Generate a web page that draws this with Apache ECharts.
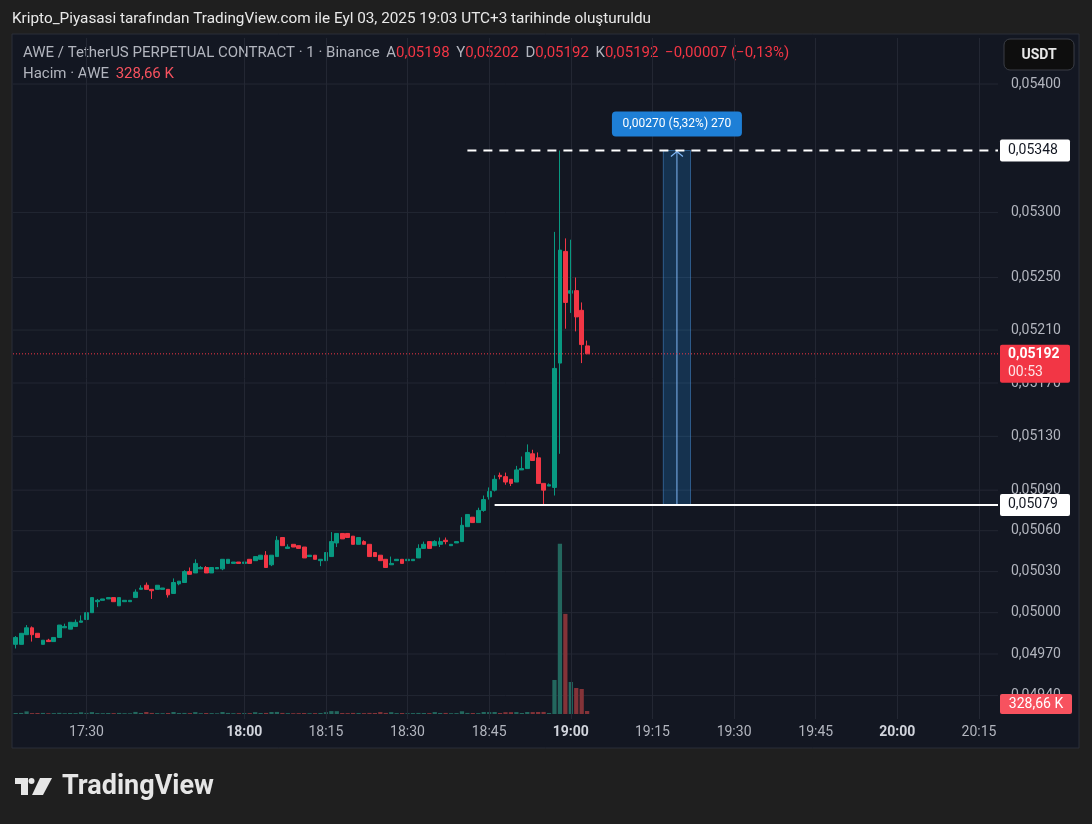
<!DOCTYPE html>
<html><head><meta charset="utf-8">
<script src="https://cdn.jsdelivr.net/npm/echarts@6/dist/echarts.min.js"></script>
<style>html,body{margin:0;padding:0;background:#1f1f1f;}#c{width:1092px;height:824px;}</style>
</head><body><div id="c"></div>
<script>
// ---------- DATA ----------
const firstMinute = '17:17';
const lastMinute = '20:18';
const skippedMinute = '17:45';
const categories = (function () {
  const out = [];
  const toMin = s => +s.slice(0, 2) * 60 + +s.slice(3);
  for (let t = toMin(firstMinute); t <= toMin(lastMinute); t++) {
    const s = String(Math.floor(t / 60)).padStart(2, '0') + ':' + String(t % 60).padStart(2, '0');
    if (s !== skippedMinute) out.push(s);
  }
  return out;
})();

// [open, close, low, high]
const ohlc = [
  [0.04977,0.04982,0.04974,0.04983],[0.04977,0.04985,0.04977,0.04985],[0.04984,0.04989,0.04984,0.04991],
  [0.04989,0.04984,0.04979,0.04990],[0.04985,0.04982,0.04982,0.04985],[0.04977,0.04980,0.04977,0.04980],
  [0.04980,0.04979,0.04979,0.04981],[0.04979,0.04982,0.04979,0.04982],[0.04982,0.04991,0.04982,0.04991],
  [0.04989,0.04990,0.04989,0.04992],[0.04988,0.04993,0.04988,0.04993],[0.04990,0.04993,0.04990,0.04995],
  [0.04993,0.04994,0.04993,0.04998],[0.04995,0.05000,0.04995,0.05003],[0.05000,0.05011,0.05000,0.05011],
  [0.05008,0.05009,0.05004,0.05010],[0.05009,0.05010,0.05009,0.05010],[0.05010,0.05011,0.05010,0.05011],
  [0.05011,0.05008,0.05008,0.05011],[0.05005,0.05011,0.05005,0.05011],[0.05008,0.05009,0.05008,0.05009],
  [0.05008,0.05009,0.05008,0.05009],[0.05011,0.05015,0.05011,0.05017],[0.05017,0.05018,0.05017,0.05020],
  [0.05020,0.05017,0.05017,0.05022],[0.05017,0.05016,0.05010,0.05017],[0.05017,0.05020,0.05017,0.05020],
  [0.05017,0.05018,0.05017,0.05018],[0.05017,0.05013,0.05011,0.05017],[0.05014,0.05022,0.05014,0.05025],
  [0.05021,0.05023,0.05020,0.05023],[0.05022,0.05030,0.05022,0.05031],[0.05030,0.05028,0.05028,0.05033],
  [0.05029,0.05036,0.05029,0.05039],[0.05032,0.05033,0.05032,0.05034],[0.05033,0.05029,0.05029,0.05034],
  [0.05029,0.05033,0.05029,0.05033],[0.05032,0.05033,0.05032,0.05033],[0.05032,0.05039,0.05031,0.05039],
  [0.05036,0.05039,0.05036,0.05039],[0.05036,0.05037,0.05036,0.05037],[0.05037,0.05036,0.05036,0.05037],
  [0.05036,0.05037,0.05036,0.05039],[0.05039,0.05036,0.05036,0.05039],[0.05038,0.05041,0.05038,0.05041],
  [0.05039,0.05042,0.05039,0.05042],[0.05042,0.05033,0.05033,0.05045],[0.05035,0.05042,0.05034,0.05042],
  [0.05041,0.05053,0.05041,0.05056],[0.05055,0.05049,0.05049,0.05055],[0.05047,0.05048,0.05047,0.05050],
  [0.05050,0.05048,0.05048,0.05050],[0.05049,0.05047,0.05047,0.05049],[0.05048,0.05040,0.05040,0.05048],
  [0.05041,0.05042,0.05041,0.05042],[0.05042,0.05039,0.05039,0.05042],[0.05038,0.05039,0.05034,0.05039],
  [0.05038,0.05044,0.05038,0.05044],[0.05041,0.05052,0.05041,0.05059],[0.05051,0.05058,0.05048,0.05058],
  [0.05058,0.05054,0.05054,0.05058],[0.05058,0.05055,0.05055,0.05058],[0.05056,0.05050,0.05050,0.05056],
  [0.05050,0.05055,0.05050,0.05055],[0.05052,0.05050,0.05050,0.05053],[0.05050,0.05041,0.05041,0.05050],
  [0.05044,0.05041,0.05041,0.05044],[0.05042,0.05038,0.05038,0.05042],[0.05039,0.05033,0.05033,0.05039],
  [0.05035,0.05036,0.05035,0.05041],[0.05038,0.05039,0.05038,0.05039],[0.05039,0.05036,0.05036,0.05039],
  [0.05038,0.05039,0.05038,0.05039],[0.05038,0.05039,0.05038,0.05039],[0.05040,0.05047,0.05040,0.05050],
  [0.05047,0.05050,0.05047,0.05052],[0.05052,0.05047,0.05047,0.05052],[0.05049,0.05052,0.05049,0.05053],
  [0.05050,0.05052,0.05048,0.05055],[0.05053,0.05052,0.05050,0.05055],[0.05049,0.05050,0.05049,0.05050],
  [0.05051,0.05052,0.05051,0.05052],[0.05052,0.05064,0.05052,0.05070],[0.05063,0.05072,0.05063,0.05072],
  [0.05070,0.05066,0.05066,0.05070],[0.05066,0.05075,0.05066,0.05077],[0.05075,0.05083,0.05074,0.05086],
  [0.05085,0.05089,0.05083,0.05092],[0.05090,0.05098,0.05089,0.05101],[0.05101,0.05100,0.05098,0.05103],
  [0.05100,0.05096,0.05094,0.05103],[0.05098,0.05095,0.05093,0.05098],[0.05096,0.05105,0.05096,0.05108],
  [0.05105,0.05106,0.05105,0.05115],[0.05106,0.05118,0.05106,0.05124],[0.05117,0.05112,0.05112,0.05120],
  [0.05114,0.05095,0.05095,0.05118],[0.05095,0.05090,0.05079,0.05095],[0.05093,0.05094,0.05093,0.05095],
  [0.05092,0.05181,0.05086,0.05285],[0.05185,0.05271,0.05117,0.05348],[0.05270,0.05231,0.05211,0.05280],
  [0.05238,0.05240,0.05223,0.05279],[0.05240,0.05220,0.05209,0.05250],[0.05225,0.05199,0.05185,0.05231],
  [0.05198,0.05192,0.05192,0.05202]
];

// volume in thousands (K)
const volumeK = [
  110,120,290,100,110,120,90,100,130,90,110,100,190,120,210,100,90,110,100,120,
  90,80,230,110,220,120,100,90,110,220,110,120,100,210,90,110,100,80,220,120,
  90,100,110,100,200,110,120,220,230,120,100,90,100,110,90,100,110,200,320,310,
  110,100,120,110,100,120,110,210,120,200,100,110,90,100,120,110,100,210,110,120,
  90,100,300,120,110,100,220,210,220,110,200,200,210,110,220,210,220,230,110,3740,
  18700,11000,3520,2860,2750,328.66
];

const priceTicks = [0.0540, 0.0530, 0.0525, 0.0521, 0.0517, 0.0513, 0.0509, 0.0506, 0.0503, 0.0500, 0.0497, 0.0494];
const timeTicks = ['17:30','18:00','18:15','18:30','18:45','19:00','19:15','19:30','19:45','20:00','20:15'];

const lastPrice = 0.05192;
const countdown = '00:53';
const volumeTagText = '328,66 K';
const rayLines = [['18:41', 0.05348, 'dashed'], ['18:46', 0.05079, 'solid']];
const measure = { from: '19:17', to: '19:22', high: 0.05348, low: 0.05079, label: '0,00270 (5,32%) 270' };

// ---------- CHART ----------
const FONT = 'Roboto, "Liberation Sans", sans-serif';
const fmt = v => v.toFixed(5).replace('.', ',');
const UP = '#089981', DOWN = '#f23645';
const GRIDC = '#232733';
const lastIdx = ohlc.length - 1;

const chart = echarts.init(document.getElementById('c'), null, { renderer: 'canvas' });

const volumeData = volumeK.map((v, i) => ({
  value: v,
  itemStyle: { color: ohlc[i][1] >= ohlc[i][0] ? '#23675e' : '#843338' }
}));

const option = {
  animation: false,
  backgroundColor: '#1f1f1f',
  textStyle: { fontFamily: FONT },
  grid: [
    { left: 13, right: 94, top: 38, bottom: 105 },
    { left: 13, right: 94, top: 350, bottom: 110 }
  ],
  xAxis: [
    {
      type: 'category', gridIndex: 0, data: categories, boundaryGap: true,
      axisLine: { show: false }, axisTick: { show: false }, splitLine: { show: false },
      axisLabel: {
        interval: (idx, val) => timeTicks.includes(val),
        formatter: v => v.endsWith(':00') ? '{b|' + v + '}' : v,
        color: '#b2b5be', fontSize: 14, margin: 6, fontFamily: FONT,
        rich: { b: { fontWeight: 'bold', color: '#d1d4dc', fontSize: 14, fontFamily: FONT } }
      }
    },
    { type: 'category', gridIndex: 1, data: categories, boundaryGap: true, show: false }
  ],
  yAxis: [
    {
      type: 'log', logBase: 10, gridIndex: 0, min: 0.049232, max: 0.054363,
      axisLine: { show: false }, axisTick: { show: false }, axisLabel: { show: false },
      splitLine: { show: false }
    },
    { type: 'value', gridIndex: 1, min: 0, max: 40000, show: false, splitLine: { show: false } }
  ],
  graphic: [
    { type: 'rect', z: -10, shape: { x: 12, y: 34, width: 1067, height: 714 },
      style: { fill: '#131722', stroke: '#2a2e39', lineWidth: 1 } },
    { type: 'text', x: 12, y: 19, style: {
      text: 'Kripto_Piyasasi tarafından TradingView.com ile Eyl 03, 2025 19:03 UTC+3 tarihinde oluşturuldu',
      fill: '#e9e9e9', font: '15.3px ' + FONT, verticalAlign: 'middle' } },
    { type: 'text', x: 23, y: 53, style: {
      text: '{g|AWE / TetherUS PERPETUAL CONTRACT · 1 · Binance}  {g|A}{r|0,05198}  {g|Y}{r|0,05202}  {g|D}{r|0,05192}  {g|K}{r|0,05192}  {r|−0,00007 (−0,13%)}',
      verticalAlign: 'middle',
      rich: { g: { fill: '#b2b5be', fontSize: 15, fontFamily: FONT }, r: { fill: '#f23645', fontSize: 15, fontFamily: FONT } } } },
    { type: 'text', x: 23, y: 74, style: {
      text: '{g|Hacim · AWE}  {r|328,66 K}', verticalAlign: 'middle',
      rich: { g: { fill: '#b2b5be', fontSize: 15, fontFamily: FONT }, r: { fill: '#f7525f', fontSize: 15, fontFamily: FONT } } } },
    { type: 'rect', shape: { x: 1004, y: 39, width: 70, height: 31, r: 6 },
      style: { fill: '#0e0e0e', stroke: '#3a3d45', lineWidth: 1 } },
    { type: 'text', x: 1039, y: 55, style: { text: 'USDT', fill: '#e8e8e8', font: 'bold 14px ' + FONT, align: 'center', verticalAlign: 'middle' } },
    // TradingView logo
    { type: 'polygon', shape: { points: [[15,778],[28,778],[28,795],[21,795],[21,784],[15,784]] }, style: { fill: '#e6e6e6' } },
    { type: 'circle', shape: { cx: 31.5, cy: 781, r: 3 }, style: { fill: '#e6e6e6' } },
    { type: 'polygon', shape: { points: [[40,778],[52,778],[43,795],[32,795]] }, style: { fill: '#e6e6e6' } },
    { type: 'text', x: 62, y: 787, style: { text: 'TradingView', fill: '#e6e6e6', font: 'bold 27px ' + FONT, verticalAlign: 'middle' } }
  ],
  series: [
    {
      name: 'vgrid', type: 'line', data: [], xAxisIndex: 0, yAxisIndex: 0, z: 0, silent: true,
      markLine: {
        silent: true, symbol: ['none', 'none'], animation: false,
        lineStyle: { color: GRIDC, width: 1, type: 'solid' },
        label: { show: false },
        data: timeTicks.map(t => ({ xAxis: t }))
      }
    },
    {
      name: 'hgrid', type: 'custom', xAxisIndex: 0, yAxisIndex: 0, z: 0, silent: true, clip: false,
      data: priceTicks.map(v => [0, v]),
      renderItem: function (params, api) {
        const p = api.coord([api.value(0), api.value(1)]);
        const cs = params.coordSys;
        return {
          type: 'group', children: [
            { type: 'line', shape: { x1: cs.x, y1: p[1], x2: cs.x + cs.width, y2: p[1] }, style: { stroke: GRIDC, lineWidth: 1 } },
            { type: 'text', x: cs.x + cs.width + 13, y: p[1], style: { text: fmt(api.value(1)), fill: '#b2b5be', font: '14px ' + FONT, verticalAlign: 'middle' } }
          ]
        };
      }
    },
    {
      name: 'AWE', type: 'candlestick', xAxisIndex: 0, yAxisIndex: 0, z: 3,
      data: ohlc, barWidth: '78%',
      itemStyle: { color: UP, color0: DOWN, borderColor: UP, borderColor0: DOWN, borderWidth: 1 }
    },
    {
      name: 'rays', type: 'custom', xAxisIndex: 0, yAxisIndex: 0, z: 6, clip: false, silent: true,
      data: rayLines.map(r => [categories.indexOf(r[0]), r[1], r[2] === 'dashed' ? 1 : 0]),
      renderItem: function (params, api) {
        const p = api.coord([api.value(0), api.value(1)]);
        const cs = params.coordSys;
        const right = cs.x + cs.width;
        const dashed = api.value(2) === 1;
        return {
          type: 'group', children: [
            { type: 'line', shape: { x1: p[0], y1: p[1], x2: right, y2: p[1] },
              style: { stroke: '#ffffff', lineWidth: 2, lineDash: dashed ? [9, 7] : null } },
            { type: 'rect', shape: { x: right + 2, y: p[1] - 11, width: 70, height: 22, r: 2 }, style: { fill: '#ffffff' } },
            { type: 'text', x: right + 10, y: p[1], style: { text: fmt(api.value(1)), fill: '#131722', font: '14px ' + FONT, verticalAlign: 'middle' } }
          ]
        };
      }
    },
    {
      name: 'measure', type: 'custom', xAxisIndex: 0, yAxisIndex: 0, z: 5, clip: false, silent: true,
      data: [[categories.indexOf(measure.from), categories.indexOf(measure.to), measure.high, measure.low]],
      renderItem: function (params, api) {
        const a = api.coord([api.value(0), api.value(2)]);
        const b = api.coord([api.value(1), api.value(3)]);
        const mx = (a[0] + b[0]) / 2;
        return {
          type: 'group', children: [
            { type: 'rect', shape: { x: a[0], y: a[1], width: b[0] - a[0], height: b[1] - a[1] },
              style: { fill: 'rgba(33,150,243,0.22)', stroke: 'rgba(80,160,240,0.45)', lineWidth: 1 } },
            { type: 'line', shape: { x1: mx, y1: b[1], x2: mx, y2: a[1] + 1 }, style: { stroke: '#7fb6f5', lineWidth: 1 } },
            { type: 'polyline', shape: { points: [[mx - 6, a[1] + 6], [mx, a[1] + 1], [mx + 6, a[1] + 6]] }, style: { stroke: '#7fb6f5', lineWidth: 1.2, fill: null } },
            { type: 'rect', shape: { x: mx - 65, y: a[1] - 39, width: 130, height: 25, r: 4 }, style: { fill: '#1e7fd6' } },
            { type: 'text', x: mx, y: a[1] - 26.5, style: { text: measure.label, fill: '#ffffff', font: '12px ' + FONT, align: 'center', verticalAlign: 'middle' } }
          ]
        };
      }
    },
    {
      name: 'priceTag', type: 'custom', xAxisIndex: 0, yAxisIndex: 0, z: 7, clip: false, silent: true,
      data: [[lastIdx, lastPrice]],
      renderItem: function (params, api) {
        const p = api.coord([api.value(0), api.value(1)]);
        const cs = params.coordSys;
        const right = cs.x + cs.width;
        return {
          type: 'group', children: [
            { type: 'line', shape: { x1: cs.x, y1: p[1], x2: right, y2: p[1] }, style: { stroke: DOWN, lineWidth: 1, lineDash: [1, 2] } },
            { type: 'rect', shape: { x: right + 2, y: p[1] - 9, width: 70, height: 38, r: 2 }, style: { fill: '#f23645' } },
            { type: 'text', x: right + 10, y: p[1] + 1, style: { text: fmt(api.value(1)), fill: '#ffffff', font: 'bold 14px ' + FONT, verticalAlign: 'middle' } },
            { type: 'text', x: right + 10, y: p[1] + 19, style: { text: countdown, fill: '#fde3e5', font: '14px ' + FONT, verticalAlign: 'middle' } }
          ]
        };
      }
    },
    {
      name: 'Hacim', type: 'bar', xAxisIndex: 1, yAxisIndex: 1, z: 2, barWidth: '78%',
      data: volumeData
    },
    {
      name: 'volTag', type: 'custom', xAxisIndex: 1, yAxisIndex: 1, z: 7, clip: false, silent: true,
      data: [[lastIdx, volumeK[lastIdx]]],
      renderItem: function (params, api) {
        const p = api.coord([api.value(0), api.value(1)]);
        const cs = params.coordSys;
        const right = cs.x + cs.width;
        const cy = Math.min(p[1], cs.y + cs.height - 10);
        return {
          type: 'group', children: [
            { type: 'rect', shape: { x: right + 2, y: cy - 10, width: 72, height: 20, r: 2 }, style: { fill: '#f7525f' } },
            { type: 'text', x: right + 38, y: cy, style: { text: volumeTagText, fill: '#ffffff', font: '14px ' + FONT, align: 'center', verticalAlign: 'middle' } }
          ]
        };
      }
    }
  ]
};
chart.setOption(option);
</script>
</body></html>
